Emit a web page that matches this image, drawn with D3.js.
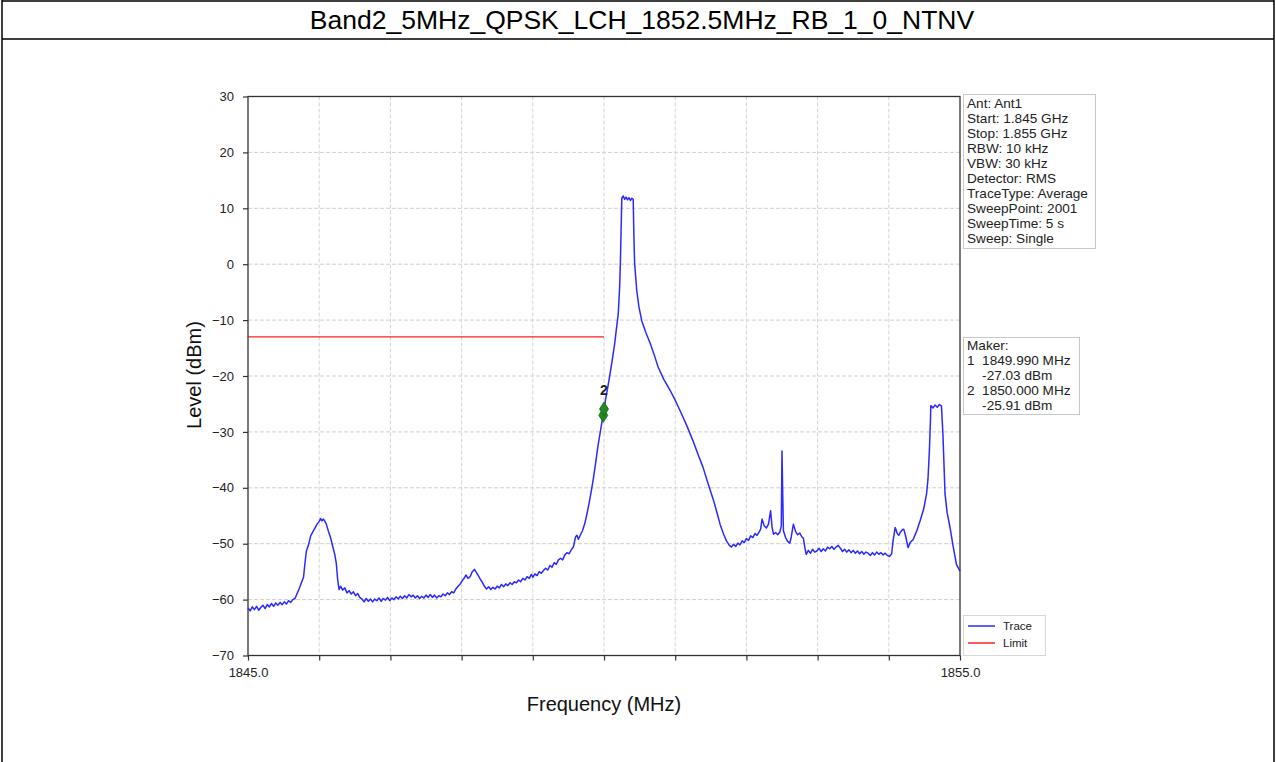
<!DOCTYPE html>
<meta charset="utf-8">
<title>Band2 spectrum</title>
<script src="https://d3js.org/d3.v7.min.js"></script>
<style>
  body { margin: 0; background: #fff; }
  svg text { font-family: "Liberation Sans", Arial, sans-serif; }
</style>
<body>
<div id="chart"></div>
<script>

// ---- data ----
var titleText = "Band2_5MHz_QPSK_LCH_1852.5MHz_RB_1_0_NTNV";
var xDomain = [1845, 1855];
var xTicks = [1845, 1846, 1847, 1848, 1849, 1850, 1851, 1852, 1853, 1854, 1855];
var xLabelTicks = [1845, 1855];
var yDomain = [-70, 30];
var yTicks = [-70, -60, -50, -40, -30, -20, -10, 0, 10, 20, 30];

// limit line: [freq, dBm]
var limitPoints = [[1845.0, -13], [1850.0, -13]];

// markers
var markerFreqs = [1849.990, 1850.000];
var markerLevels = [-27.03, -25.91];
var markerNames = ["1", "2"];

var infoLines = ["Ant: Ant1", "Start: 1.845 GHz", "Stop: 1.855 GHz", "RBW: 10 kHz",
  "VBW: 30 kHz", "Detector: RMS", "TraceType: Average", "SweepPoint: 2001",
  "SweepTime: 5 s", "Sweep: Single"];

// trace: [freq MHz, level dBm]
var tracePoints = [
  [1845.00,-61.5],[1845.03,-62.0],[1845.06,-61.3],[1845.09,-61.8],[1845.12,-61.2],[1845.15,-61.9],
  [1845.18,-61.4],[1845.21,-61.0],[1845.24,-61.6],[1845.27,-60.9],[1845.30,-61.3],[1845.33,-60.7],
  [1845.36,-61.2],[1845.39,-60.6],[1845.42,-61.0],[1845.45,-60.5],[1845.48,-60.9],[1845.51,-60.4],
  [1845.54,-60.8],[1845.57,-60.2],[1845.60,-60.5],[1845.63,-60.0],[1845.66,-59.8],[1845.69,-58.9],
  [1845.72,-58.0],[1845.75,-57.0],[1845.78,-56.0],[1845.80,-53.5],[1845.82,-51.3],[1845.85,-50.2],
  [1845.88,-48.6],[1845.91,-47.9],[1845.94,-47.2],[1845.97,-46.5],[1846.00,-46.0],[1846.02,-45.5],
  [1846.04,-45.9],[1846.06,-45.6],[1846.08,-46.0],[1846.10,-46.5],[1846.13,-47.8],[1846.16,-48.9],
  [1846.19,-50.5],[1846.22,-52.0],[1846.24,-53.5],[1846.26,-56.5],[1846.28,-58.2],[1846.30,-57.6],
  [1846.33,-58.3],[1846.36,-57.9],[1846.39,-58.8],[1846.42,-58.4],[1846.45,-59.0],[1846.48,-58.6],
  [1846.51,-59.3],[1846.54,-58.9],[1846.57,-59.6],[1846.60,-59.9],[1846.63,-60.4],[1846.66,-59.8],
  [1846.69,-60.3],[1846.72,-59.9],[1846.75,-60.4],[1846.78,-59.9],[1846.81,-60.2],[1846.84,-59.7],
  [1846.87,-60.3],[1846.90,-59.8],[1846.93,-60.1],[1846.96,-59.6],[1846.99,-60.2],[1847.02,-59.7],
  [1847.05,-60.0],[1847.08,-59.5],[1847.11,-59.9],[1847.14,-59.4],[1847.17,-59.8],[1847.20,-59.3],
  [1847.23,-59.7],[1847.26,-59.1],[1847.29,-59.5],[1847.32,-59.2],[1847.35,-59.7],[1847.38,-59.3],
  [1847.41,-59.8],[1847.44,-59.4],[1847.47,-59.7],[1847.50,-59.2],[1847.53,-59.6],[1847.56,-59.1],
  [1847.59,-59.6],[1847.62,-59.2],[1847.65,-59.7],[1847.68,-59.3],[1847.71,-59.5],[1847.74,-59.0],
  [1847.77,-59.3],[1847.80,-58.8],[1847.83,-59.1],[1847.86,-58.6],[1847.89,-58.8],[1847.92,-58.1],
  [1847.95,-57.6],[1847.98,-57.2],[1848.01,-56.6],[1848.04,-56.1],[1848.06,-55.6],[1848.09,-56.2],
  [1848.12,-55.9],[1848.15,-55.0],[1848.18,-54.6],[1848.20,-55.0],[1848.23,-55.6],[1848.26,-56.3],
  [1848.29,-56.9],[1848.32,-57.6],[1848.35,-58.1],[1848.38,-57.7],[1848.41,-58.2],[1848.44,-57.8],
  [1848.47,-58.1],[1848.50,-57.6],[1848.53,-57.9],[1848.56,-57.3],[1848.59,-57.7],[1848.62,-57.2],
  [1848.65,-57.5],[1848.68,-57.0],[1848.71,-57.3],[1848.74,-56.8],[1848.77,-57.0],[1848.80,-56.5],
  [1848.83,-56.8],[1848.86,-56.2],[1848.89,-56.5],[1848.92,-55.9],[1848.95,-56.2],[1848.98,-55.5],
  [1849.00,-56.0],[1849.03,-55.4],[1849.06,-55.7],[1849.09,-55.0],[1849.12,-55.3],[1849.15,-54.8],
  [1849.18,-54.4],[1849.21,-54.7],[1849.24,-53.9],[1849.27,-54.2],[1849.30,-53.4],[1849.33,-53.7],
  [1849.36,-52.9],[1849.39,-52.6],[1849.42,-52.9],[1849.45,-52.0],[1849.48,-51.6],[1849.51,-51.8],
  [1849.54,-51.1],[1849.57,-50.6],[1849.60,-48.8],[1849.62,-48.5],[1849.64,-49.2],[1849.67,-48.4],
  [1849.70,-47.6],[1849.73,-46.4],[1849.76,-44.7],[1849.79,-42.8],[1849.82,-40.7],[1849.85,-38.4],
  [1849.88,-35.8],[1849.91,-33.0],[1849.94,-30.6],[1849.97,-28.3],[1849.99,-27.03],[1850.00,-25.91],
  [1850.03,-23.6],[1850.06,-21.5],[1850.09,-19.2],[1850.12,-16.8],[1850.15,-14.2],[1850.18,-11.0],
  [1850.20,-8.9],[1850.22,-4.0],[1850.23,0.2],[1850.24,6.0],[1850.25,11.8],[1850.27,12.2],
  [1850.29,11.6],[1850.31,12.0],[1850.33,11.5],[1850.35,11.9],[1850.37,11.4],[1850.39,11.8],
  [1850.41,11.6],[1850.42,5.0],[1850.43,0.2],[1850.46,-4.7],[1850.49,-7.6],[1850.53,-10.1],
  [1850.59,-12.3],[1850.65,-14.2],[1850.71,-16.4],[1850.76,-18.4],[1850.84,-20.6],[1850.93,-22.6],
  [1851.01,-24.6],[1851.09,-26.8],[1851.17,-29.1],[1851.25,-31.6],[1851.32,-34.0],[1851.39,-36.3],
  [1851.46,-39.2],[1851.54,-42.3],[1851.59,-44.6],[1851.63,-46.5],[1851.68,-48.3],[1851.72,-49.5],
  [1851.76,-50.3],[1851.79,-50.6],[1851.82,-50.1],[1851.85,-50.5],[1851.88,-49.9],[1851.91,-50.2],
  [1851.94,-49.5],[1851.97,-49.8],[1852.00,-49.1],[1852.03,-49.4],[1852.06,-48.6],[1852.09,-48.9],
  [1852.12,-48.2],[1852.15,-48.5],[1852.18,-47.9],[1852.20,-47.4],[1852.22,-45.6],[1852.25,-46.8],
  [1852.28,-47.2],[1852.31,-46.5],[1852.34,-44.1],[1852.36,-47.0],[1852.38,-48.3],[1852.41,-48.0],
  [1852.44,-48.4],[1852.47,-47.9],[1852.49,-46.8],[1852.50,-33.4],[1852.51,-41.0],[1852.52,-47.7],
  [1852.55,-48.9],[1852.58,-49.6],[1852.61,-49.9],[1852.63,-48.8],[1852.66,-46.5],[1852.69,-47.8],
  [1852.72,-48.4],[1852.75,-48.1],[1852.78,-48.8],[1852.80,-49.0],[1852.82,-50.6],[1852.84,-51.9],
  [1852.87,-51.2],[1852.90,-51.7],[1852.93,-51.0],[1852.96,-51.5],[1852.99,-51.3],[1853.02,-50.8],
  [1853.05,-51.4],[1853.08,-50.9],[1853.11,-51.3],[1853.14,-50.6],[1853.17,-50.9],[1853.20,-50.5],
  [1853.23,-51.0],[1853.26,-50.6],[1853.29,-50.3],[1853.32,-50.8],[1853.35,-51.4],[1853.38,-51.0],
  [1853.41,-51.5],[1853.44,-51.1],[1853.47,-51.6],[1853.50,-51.2],[1853.53,-51.7],[1853.56,-51.3],
  [1853.59,-51.8],[1853.62,-51.4],[1853.65,-51.9],[1853.68,-51.5],[1853.71,-51.7],[1853.74,-52.1],
  [1853.77,-51.6],[1853.80,-52.0],[1853.83,-51.5],[1853.86,-51.9],[1853.89,-51.6],[1853.92,-52.0],
  [1853.95,-51.7],[1853.98,-52.1],[1854.01,-52.3],[1854.04,-51.8],[1854.06,-49.5],[1854.09,-47.1],
  [1854.12,-48.2],[1854.14,-48.5],[1854.16,-48.0],[1854.19,-47.5],[1854.21,-47.4],[1854.24,-48.8],
  [1854.27,-50.7],[1854.30,-49.8],[1854.34,-49.3],[1854.39,-47.8],[1854.44,-45.9],[1854.49,-43.8],
  [1854.53,-41.1],[1854.55,-38.5],[1854.57,-33.4],[1854.585,-28.0],[1854.59,-25.3],[1854.62,-25.7],
  [1854.65,-25.2],[1854.68,-25.6],[1854.71,-25.1],[1854.74,-25.4],[1854.76,-30.4],[1854.79,-41.1],
  [1854.82,-44.5],[1854.86,-47.1],[1854.90,-50.2],[1854.95,-53.7],[1855.00,-54.9]
];

// ---- layout ----
var W = 1276, H = 762;
var plot = {left: 248, right: 960, top: 96.5, bottom: 655.5};

var svg = d3.select("#chart").append("svg")
    .attr("width", W)
    .attr("height", H);

// outer table frame + title row
var frame = svg.append("g").attr("stroke", "#000").attr("stroke-width", 1.5);
frame.append("line").attr("x1", 2).attr("x2", 1274).attr("y1", 1).attr("y2", 1);
frame.append("line").attr("x1", 2).attr("x2", 1274).attr("y1", 39).attr("y2", 39);
frame.append("line").attr("x1", 2).attr("x2", 2).attr("y1", 0).attr("y2", H);
frame.append("line").attr("x1", 1274).attr("x2", 1274).attr("y1", 0).attr("y2", H);

svg.append("text")
    .attr("x", 642)
    .attr("y", 29)
    .attr("text-anchor", "middle")
    .attr("font-size", "26.5px")
    .attr("fill", "#000")
    .text(titleText);

// scales
var x = d3.scaleLinear().domain(xDomain).range([plot.left, plot.right]);
var y = d3.scaleLinear().domain(yDomain).range([plot.bottom, plot.top]);

// grid
svg.append("g")
  .selectAll("line")
  .data(yTicks.slice(1, -1))
  .join("line")
    .attr("x1", plot.left).attr("x2", plot.right)
    .attr("y1", d => y(d)).attr("y2", d => y(d))
    .attr("stroke", "#cfcfcf")
    .attr("stroke-dasharray", "4,2");

svg.append("g")
  .selectAll("line")
  .data(xTicks.slice(1, -1))
  .join("line")
    .attr("x1", d => x(d)).attr("x2", d => x(d))
    .attr("y1", plot.top).attr("y2", plot.bottom)
    .attr("stroke", "#d4d4d4")
    .attr("stroke-dasharray", "4,2");

// limit line
var line = d3.line().x(d => x(d[0])).y(d => y(d[1]));
svg.append("path")
    .datum(limitPoints)
    .attr("d", line)
    .attr("fill", "none")
    .attr("stroke", "#ff2020")
    .attr("stroke-width", 1.2);

// trace
svg.append("path")
    .datum(tracePoints)
    .attr("d", line)
    .attr("fill", "none")
    .attr("stroke", "#2a2aff")
    .attr("stroke-width", 1.5)
    .attr("stroke-linejoin", "round");

// markers (thin diamonds)
var markers = markerFreqs.map((f, i) => ({f: f, v: markerLevels[i], name: markerNames[i]}));
svg.append("g")
  .selectAll("path")
  .data(markers)
  .join("path")
    .attr("transform", d => "translate(" + x(d.f) + "," + y(d.v) + ")")
    .attr("d", "M0,-7L4.5,0L0,7L-4.5,0Z")
    .attr("fill", "#1f8a1f")
    .attr("stroke", "#146614")
    .attr("stroke-width", 0.8);

svg.append("text")
    .datum(markers[markers.length - 1])
    .attr("x", d => x(d.f))
    .attr("y", d => y(d.v) - 14)
    .attr("text-anchor", "middle")
    .attr("font-size", "14px")
    .attr("font-weight", "bold")
    .attr("fill", "#222")
    .text(d => d.name);

// axes
var yAxis = svg.append("g")
    .attr("transform", "translate(" + plot.left + ",0)")
    .call(d3.axisLeft(y).tickValues(yTicks).tickSize(5).tickPadding(9).tickFormat(d3.format("d")));

var xAxis = svg.append("g")
    .attr("transform", "translate(0," + plot.bottom + ")")
    .call(d3.axisBottom(x).tickValues(xTicks).tickSize(5).tickPadding(7)
      .tickFormat(d => xLabelTicks.indexOf(d) >= 0 ? d.toFixed(1) : ""));

[yAxis, xAxis].forEach(function(a) {
  a.selectAll("text").attr("font-size", "13px").attr("fill", "#222")
    .attr("font-family", "Liberation Sans, Arial, sans-serif");
  a.selectAll("line").attr("stroke", "#333").attr("stroke-width", 1.2);
  a.select(".domain").remove();
});

// spines (full box)
svg.append("rect")
    .attr("x", plot.left).attr("y", plot.top)
    .attr("width", plot.right - plot.left)
    .attr("height", plot.bottom - plot.top)
    .attr("fill", "none")
    .attr("stroke", "#333")
    .attr("stroke-width", 1.3);

// axis titles
svg.append("text")
    .attr("transform", "translate(201," + ((plot.top + plot.bottom) / 2 - 1) + ") rotate(-90)")
    .attr("text-anchor", "middle")
    .attr("font-size", "20px")
    .attr("fill", "#111")
    .text("Level (dBm)");

svg.append("text")
    .attr("x", (plot.left + plot.right) / 2)
    .attr("y", 711)
    .attr("text-anchor", "middle")
    .attr("font-size", "20px")
    .attr("fill", "#111")
    .text("Frequency (MHz)");

// info box
var info = svg.append("g");
info.append("rect")
    .attr("x", 963.5).attr("y", 94.5).attr("width", 132).attr("height", 154)
    .attr("fill", "#fff").attr("stroke", "#c8c8c8");
info.selectAll("text")
  .data(infoLines)
  .join("text")
    .attr("x", 967)
    .attr("y", (d, i) => 107.5 + i * 15.1)
    .attr("font-size", "13.6px")
    .attr("fill", "#222")
    .text(d => d);

// marker readout box
var mk = svg.append("g");
mk.append("rect")
    .attr("x", 963.5).attr("y", 337.5).attr("width", 116).attr("height", 77)
    .attr("fill", "#fff").attr("stroke", "#c8c8c8");
var mkLines = ["Maker:"];
markers.forEach(function(m) {
  mkLines.push(m.name + "  " + m.f.toFixed(3) + " MHz");
  mkLines.push("    " + m.v.toFixed(2) + " dBm");
});
mk.selectAll("text")
  .data(mkLines)
  .join("text")
    .attr("x", 967)
    .attr("y", (d, i) => 349.5 + i * 15)
    .attr("font-size", "13.6px")
    .attr("fill", "#222")
    .attr("xml:space", "preserve")
    .style("white-space", "pre")
    .text(d => d);

// legend
var lg = svg.append("g");
lg.append("rect")
    .attr("x", 963.5).attr("y", 615.5).attr("width", 82).attr("height", 40)
    .attr("fill", "#fff").attr("stroke", "#d8d8d8");
var legendItems = [{name: "Trace", color: "#2a2aff"}, {name: "Limit", color: "#ff2020"}];
legendItems.forEach(function(it, i) {
  lg.append("line")
    .attr("x1", 968).attr("x2", 995)
    .attr("y1", 626 + i * 17).attr("y2", 626 + i * 17)
    .attr("stroke", it.color).attr("stroke-width", 1.5);
  lg.append("text")
    .attr("x", 1003).attr("y", 630 + i * 17)
    .attr("font-size", "11.5px")
    .attr("fill", "#222")
    .text(it.name);
});

</script>
</body>
